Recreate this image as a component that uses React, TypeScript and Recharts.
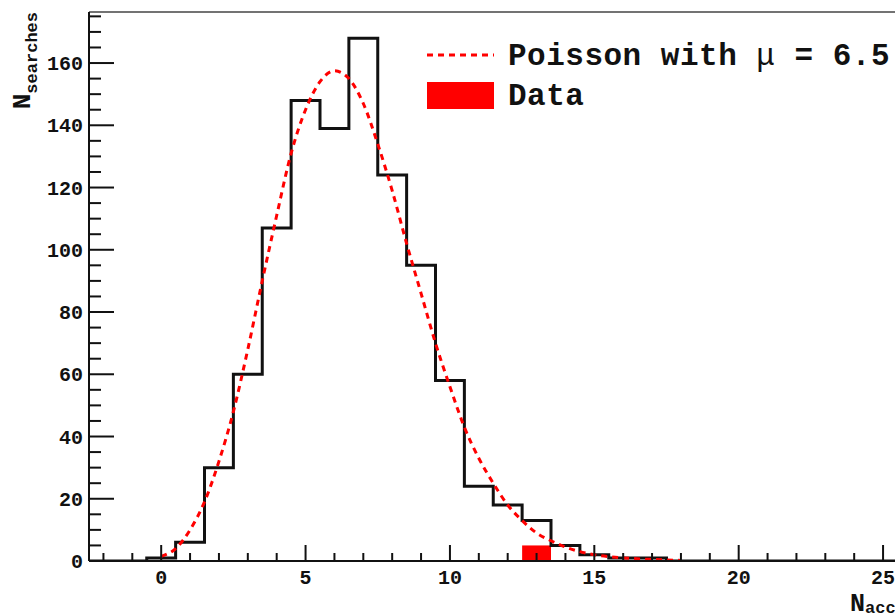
import { ComposedChart, Line, XAxis, YAxis, ReferenceArea, ReferenceLine } from 'recharts'

// histogram of N_searches per bin (bin centres on integers, width 1)
const binCenters = [-2, -1, 0, 1, 2, 3, 4, 5, 6, 7, 8, 9, 10, 11, 12, 13, 14, 15, 16, 17, 18, 19, 20, 21, 22, 23, 24, 25, 26, 27, 28, 29]
const searchCounts = [0, 0, 1, 6, 30, 60, 107, 148, 139, 168, 124, 95, 58, 24, 18, 13, 5, 2, 1, 1, 0, 0, 0, 0, 0, 0, 0, 0, 0, 0, 0, 0]

// dashed Poisson curve
const poissonX = [0, 0.5, 1, 1.5, 2, 2.5, 3, 3.5, 4, 4.5, 5, 5.5, 6, 6.5, 7, 7.5, 8, 8.5, 9, 9.5, 10, 10.5, 11, 11.5, 12, 12.5, 13, 13.5, 14, 14.5, 15, 16, 17, 18]
const poissonY = [1.5, 4, 10, 19, 32, 48, 68, 90, 111, 131, 145, 154, 157.5, 155, 147, 134, 119, 102, 86, 70, 56, 43, 33, 25, 18, 13, 9, 6.5, 4.5, 3, 2, 1, 0.5, 0.2]

// observed data bin
const dataBin = { center: 13, count: 5 }

const xTicks = binCenters.slice()
const yTicks = [0, 5, 10, 15, 20, 25, 30, 35, 40, 45, 50, 55, 60, 65, 70, 75, 80, 85, 90, 95, 100, 105, 110, 115, 120, 125, 130, 135, 140, 145, 150, 155, 160, 165, 170, 175]
const xDomain: [number, number] = [-2.5, 29.5]
const yMax = 176.4

const histPoints = [
  ...binCenters.map((c, i) => ({ x: c - 0.5, y: searchCounts[i] })),
  { x: binCenters[binCenters.length - 1] + 0.5, y: searchCounts[searchCounts.length - 1] },
]
const curvePoints = poissonX.map((x, i) => ({ x, y: poissonY[i] }))

const FONT = "'Liberation Mono', 'DejaVu Sans Mono', monospace"
const INK = '#111'

const XTick = (props: any) => {
  const { x, y, payload } = props
  const v = payload.value as number
  const major = v % 5 === 0
  return (
    <g>
      <line x1={x} x2={x} y1={y} y2={y - (major ? 16 : 8)} stroke={INK} strokeWidth={2} />
      {major && (
        <text x={x} y={y + 23} textAnchor="middle" fontFamily={FONT} fontWeight="bold" fontSize={20} fill={INK}>
          {v}
        </text>
      )}
    </g>
  )
}

const YTick = (props: any) => {
  const { x, y, payload } = props
  const v = payload.value as number
  const major = v % 20 === 0
  return (
    <g>
      <line x1={x} x2={x + (major ? 25 : 12)} y1={y} y2={y} stroke={INK} strokeWidth={2} />
      {major && (
        <text x={x - 6} y={y + 7} textAnchor="end" fontFamily={FONT} fontWeight="bold" fontSize={20} fill={INK}>
          {v}
        </text>
      )}
    </g>
  )
}

export default function App() {
  return (
    <div style={{ position: 'fixed', left: 0, top: 0, width: 895, height: 616, overflow: 'hidden', background: '#fff' }}>
      <ComposedChart width={1100} height={616} margin={{ top: 12, right: 87, bottom: 0, left: 0 }}>
        <XAxis
          dataKey="x"
          type="number"
          domain={xDomain}
          allowDataOverflow
          ticks={xTicks}
          interval={0}
          tick={<XTick />}
          tickLine={false}
          tickSize={0}
          tickMargin={0}
          height={55}
          axisLine={{ stroke: INK, strokeWidth: 2 }}
        />
        <YAxis
          type="number"
          domain={[0, yMax]}
          allowDataOverflow
          ticks={yTicks}
          interval={0}
          tick={<YTick />}
          tickLine={false}
          tickSize={0}
          tickMargin={0}
          width={89}
          axisLine={{ stroke: INK, strokeWidth: 2 }}
        />
        <ReferenceLine y={yMax} stroke="#444" strokeWidth={1.5} />
        <ReferenceArea
          x1={dataBin.center - 0.5}
          x2={dataBin.center + 0.5}
          y1={0}
          y2={dataBin.count}
          fill="#ff0000"
          fillOpacity={1}
          stroke="none"
        />
        <Line
          data={histPoints}
          dataKey="y"
          type="stepAfter"
          stroke={INK}
          strokeWidth={3}
          dot={false}
          activeDot={false}
          isAnimationActive={false}
        />
        <Line
          data={curvePoints}
          dataKey="y"
          type="monotone"
          stroke="#ff0000"
          strokeWidth={3}
          strokeDasharray="6 5"
          dot={false}
          activeDot={false}
          isAnimationActive={false}
        />
      </ComposedChart>
      <svg width={895} height={616} style={{ position: 'absolute', left: 0, top: 0, pointerEvents: 'none' }}>
        {/* legend */}
        <line x1={427} x2={494} y1={55} y2={55} stroke="#ff0000" strokeWidth={3} strokeDasharray="6 5" />
        <text x={508} y={65} fontFamily={FONT} fontWeight="bold" fontSize={31} letterSpacing={0.5} fill={INK}>
          Poisson with <tspan fontWeight="normal">μ</tspan> = 6.5
        </text>
        <rect x={427} y={82} width={67} height={27} fill="#ff0000" />
        <text x={508} y={105} fontFamily={FONT} fontWeight="bold" fontSize={31} letterSpacing={0.5} fill={INK}>
          Data
        </text>
        {/* axis titles */}
        <g transform="translate(30, 12) rotate(-90)">
          <text textAnchor="end" fontFamily={FONT} fontWeight="bold" fill={INK}>
            <tspan fontSize={26}>N</tspan>
            <tspan fontSize={17} dy={7}>searches</tspan>
          </text>
        </g>
        <text x={850} y={611} fontFamily={FONT} fontWeight="bold" fill={INK}>
          <tspan fontSize={25}>N</tspan>
          <tspan fontSize={17} dy={2}>acc</tspan>
        </text>
      </svg>
    </div>
  )
}
